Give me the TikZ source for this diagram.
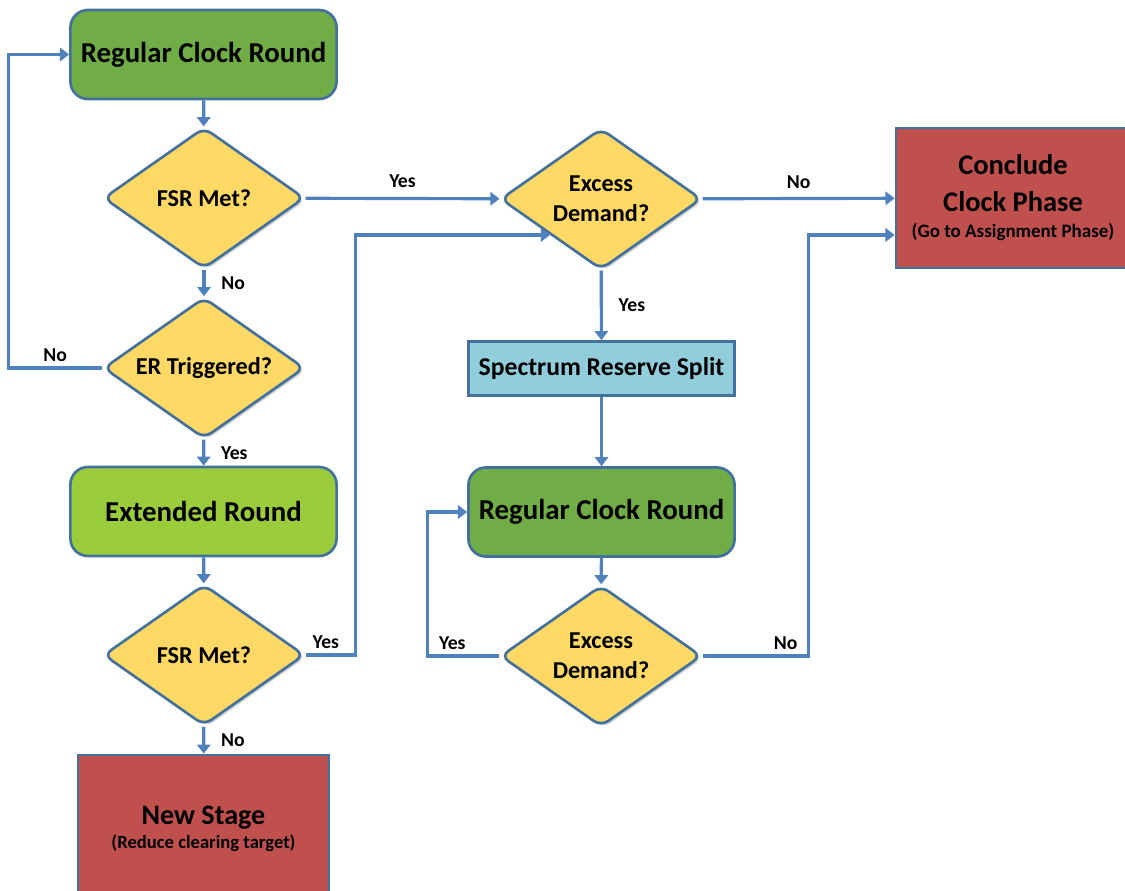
\documentclass[tikz,border=0pt]{standalone}
\usepackage{fontspec}
\setmainfont{Carlito}
\usetikzlibrary{shapes.geometric,arrows.meta,shadows}
\definecolor{dkgreen}{HTML}{70AD47}
\definecolor{ltgreen}{HTML}{9BCC3C}
\definecolor{decyellow}{HTML}{FFD966}
\definecolor{redbox}{HTML}{C0504D}
\definecolor{ltblue}{HTML}{92CDDC}
\definecolor{boxborder}{HTML}{41719C}
\definecolor{arrowblue}{HTML}{4F81BD}
\begin{document}
\begin{tikzpicture}[x=0.01cm,y=-0.01cm,
  box/.style={draw=boxborder, line width=0.75pt, inner sep=0pt, align=center},
  rbox/.style={box, rounded corners=5pt, minimum width=2.66cm, minimum height=0.89cm,
    font=\bfseries\fontsize{8.2pt}{10pt}\selectfont},
  dec/.style={draw=boxborder, line width=0.75pt, diamond, aspect=1.42, fill=decyellow,
    rounded corners=2.5pt, inner sep=0pt, align=center,
    minimum width=2.01cm, minimum height=1.41cm,
    drop shadow={shadow xshift=0.6pt, shadow yshift=-0.6pt, opacity=0.18, fill=black},
    font=\bfseries\fontsize{6.9pt}{8.5pt}\selectfont},
  flow/.style={draw=arrowblue, line width=0.9pt, -{Triangle[length=2.6pt,width=3.8pt]}},
  lbl/.style={font=\bfseries\fontsize{5.6pt}{6pt}\selectfont, inner sep=1.5pt}
]
\useasboundingbox (0,0) rectangle (1125,890);
\clip (0,0) rectangle (1125,890);
\fill[white] (0,0) rectangle (1125,890);

% left column
\node[rbox, fill=dkgreen] (rcr1) at (203.5,54.5) {Regular Clock Round};
\node[dec] (fsr1) at (204,198) {FSR Met?};
\node[dec] (er) at (204,368) {ER Triggered?};
\node[rbox, fill=ltgreen] (ext) at (203.5,511.5) {Extended Round};
\node[dec] (fsr2) at (204,655) {FSR Met?};
\node[box, fill=redbox, minimum width=2.51cm, minimum height=1.48cm,
  font=\bfseries\fontsize{8pt}{6.8pt}\selectfont] (new) at (203.5,829)
  {New Stage\\{\fontsize{5.3pt}{6pt}\selectfont (Reduce clearing target)}};

% middle column
\node[dec] (ed1) at (601,199) {Excess\\Demand?};
\node[box, fill=ltblue, minimum width=2.66cm, minimum height=0.54cm,
  font=\bfseries\fontsize{7.3pt}{9pt}\selectfont] (srs) at (601.5,368.5) {Spectrum Reserve Split};
\node[rbox, fill=dkgreen] (rcr2) at (601.5,512) {Regular Clock Round};
\node[dec] (ed2) at (601,656) {Excess\\Demand?};

% right column
\node[box, fill=redbox, minimum width=2.34cm, minimum height=1.40cm,
  font=\bfseries\fontsize{8.1pt}{10.5pt}\selectfont] (concl) at (1013,198)
  {Conclude\\Clock Phase\\[-3.1pt]{\fontsize{5.4pt}{6pt}\selectfont (Go to Assignment Phase)}};

% connectors
\draw[flow] (rcr1) -- (fsr1);
\draw[flow] (fsr1) -- node[lbl, above=1pt] {Yes} (ed1);
\draw[flow] (fsr1) -- node[lbl, right=3pt] {No} (er);
\draw[flow] (er.west) -- node[lbl, above] {No} ++(-94,0) |- (rcr1.west);
\draw[flow] (er) -- node[lbl, right=3pt] {Yes} (ext);
\draw[flow] (ext) -- (fsr2);
\draw[flow] (fsr2.east) -- node[lbl, above, pos=0.4] {Yes} ++(50,0) |- (ed1.south west);
\draw[flow] (fsr2) -- node[lbl, right=3pt] {No} (new);
\draw[flow] (ed1) -- node[lbl, above=1pt] {No} (concl);
\draw[flow] (ed1) -- node[lbl, right=3pt] {Yes} (srs);
\draw[flow] (srs) -- (rcr2);
\draw[flow] (rcr2) -- (ed2);
\draw[flow] (ed2.west) -- node[lbl, above, pos=0.65] {Yes} ++(-72,0) |- (rcr2.west);
\draw[flow] (ed2.east) -- node[lbl, above, pos=0.78] {No} ++(106,0) |- (concl.west |- ed1.south west);
\end{tikzpicture}
\end{document}
